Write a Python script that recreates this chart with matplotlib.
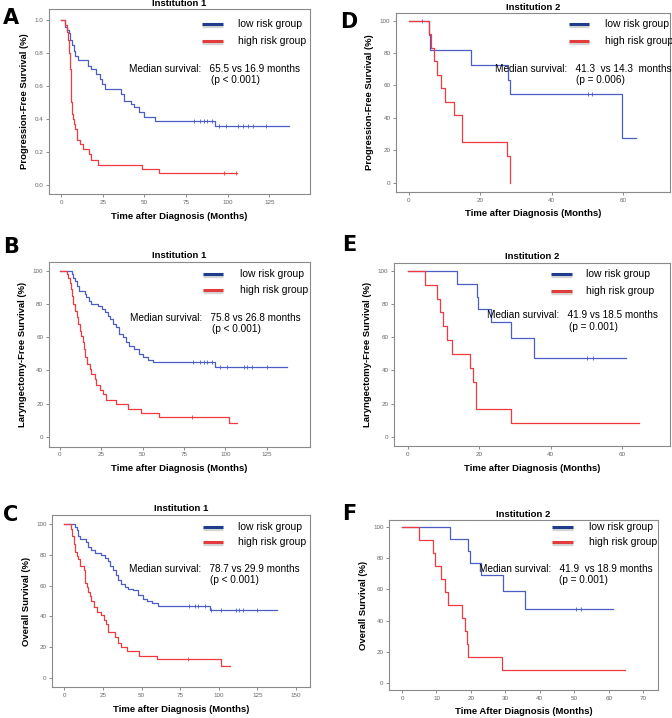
import matplotlib
matplotlib.use("Agg")
import matplotlib.pyplot as plt
import numpy as np

plt.rcParams['font.family'] = ['Liberation Sans', 'DejaVu Sans']

# ---- data (event times in months, survival after step) ----
# A: progression-free survival, institution 1 (0-1 scale)
a_low_t = [2.5, 3.5, 4.5, 5.5, 6.5, 7.5, 8.5, 10, 16, 18, 21, 23, 24.5, 26, 36,
           37.5, 42, 44, 46.5, 49.5, 56.5, 92.5]
a_low_s = [0.96, 0.94, 0.92, 0.88, 0.85, 0.81, 0.78, 0.76, 0.72, 0.70, 0.67,
           0.64, 0.61, 0.58, 0.55, 0.51, 0.49, 0.47, 0.44, 0.41, 0.39, 0.36]
a_low_end = 137
a_low_cens = [79.5, 83.5, 86, 87.5, 90.5, 94.5, 99, 106, 109, 112, 115, 123]
a_high_t = [2.5, 3.5, 4.2, 4.8, 5.2, 5.6, 6.0, 6.5, 7.0, 7.6, 8.2, 9.2, 11.2,
            13.2, 16.8, 17.6, 22.2, 48.3, 58.8]
a_high_s = [0.97, 0.93, 0.88, 0.80, 0.70, 0.60, 0.50, 0.43, 0.40, 0.37, 0.34,
            0.27, 0.25, 0.22, 0.19, 0.15, 0.12, 0.10, 0.073]
a_high_end = 105.5
a_high_cens = [98, 105]

# D: progression-free survival, institution 2
d_low_t = [5.6, 6.0, 17.4, 27.7, 28.4, 59.6]
d_low_s = [90.9, 81.8, 72.7, 63.6, 54.5, 27.3]
d_low_end = 63.6
d_low_cens = [3.7, 50, 51.2]
d_high_t = [5.6, 6.4, 7.0, 7.9, 9.0, 10.1, 12.7, 15.0, 27.5, 28.4]
d_high_s = [91.7, 83.3, 75, 66.7, 58.3, 50, 41.7, 25, 16.7, 0]
d_high_end = 28.4
d_high_cens = []

# B: laryngectomy-free survival, institution 1
b_low_t = [7, 8, 9, 10, 11.5, 15, 16, 17.5, 19, 23, 25.5, 27.5, 29, 30.5, 32,
           34, 36, 38, 40, 42, 45, 47.5, 50, 53, 56.5, 94]
b_low_s = [98, 96, 94, 91, 88, 86, 84, 82, 80, 79, 77, 75, 73, 71, 68, 66, 62,
           60, 57, 55, 53, 50, 48, 46.5, 45, 42]
b_low_end = 137
b_low_cens = [80.5, 84.5, 87, 89, 92, 97, 101, 111, 113, 116, 125]
b_high_t = [4, 5, 6, 6.5, 7.3, 8, 9, 10, 11, 12, 13, 14, 14.5, 15.3, 16.5, 18,
            19, 21, 22, 24, 26, 28, 34, 41, 48.8, 60, 102]
b_high_s = [98, 96, 93, 89, 85, 80, 76, 72, 68, 64, 61, 57, 53, 48, 44, 41, 38,
            35, 31, 28, 26, 22, 19.5, 17, 14.5, 12, 8]
b_high_end = 107
b_high_cens = [80]

# E: laryngectomy-free survival, institution 2
e_low_t = [13.9, 19.3, 19.8, 23.2, 29.0, 35.4]
e_low_s = [92.3, 84.6, 76.9, 69.2, 59.3, 47.4]
e_low_end = 61
e_low_cens = [50.3, 52]
e_high_t = [5, 8.3, 9, 10, 11.1, 12.5, 17.6, 18.4, 19, 29]
e_high_s = [91.7, 83.3, 75, 66.7, 58.3, 50, 41.7, 33.3, 16.7, 8.3]
e_high_end = 64.7
e_high_cens = []

# C: overall survival, institution 1
c_low_t = [7, 8, 9, 10, 14, 15.5, 17.5, 20, 24, 26, 28, 29.5, 31.5, 33.5, 35,
           37, 39, 41.5, 44.5, 48, 51, 53.5, 56.5, 60.5, 94]
c_low_s = [98, 96, 92, 90, 88, 85, 83, 81, 80, 78, 76, 73, 70, 67, 63.5, 61,
           59, 58, 57, 54, 51, 50, 49, 47, 44]
c_low_end = 137.5
c_low_cens = [81, 84.5, 86.5, 91, 95, 101.5, 111, 113, 115.5, 124.5]
c_high_t = [4, 5, 6, 7, 8, 9, 10, 12.5, 13.5, 14.5, 15.5, 16.5, 17.5, 19, 21,
            24, 25.5, 27, 28.5, 33, 34.5, 37, 40.5, 48.5, 60, 101.5]
c_high_s = [97, 92, 87, 82, 79, 77, 73, 70, 62, 59, 56, 53, 50, 46, 43, 41, 38,
            35, 30, 27, 23, 20.5, 17.5, 14.5, 12.3, 8]
c_high_end = 107
c_high_cens = [80]

# F: overall survival, institution 2
f_low_t = [13.8, 19.1, 19.6, 23, 29.3, 35.6]
f_low_s = [92.3, 84.6, 76.9, 69.2, 59.3, 47.4]
f_low_end = 61.3
f_low_cens = [50.6, 52]
f_high_t = [4.8, 9, 9.7, 11.2, 12.4, 13.2, 17.4, 18.2, 18.9, 19.1, 29.1]
f_high_s = [91.7, 83.3, 75, 66.7, 58.3, 50, 41.7, 33.3, 25, 16.7, 8.3]
f_high_end = 64.6
f_high_cens = []

BLUE = "#4a5ec6"
RED = "#f2393f"
LEG_BLUE = "#1f3d8c"
LEG_RED = "#e23c3c"


def km(ax, times, surv, end, cens, color, top):
    x = np.concatenate([[0], times, [end]])
    y = np.concatenate([[top], surv, [surv[-1]]])
    ax.step(x, y, where="post", color=color, lw=0.9)
    if len(cens):
        idx = np.searchsorted(x, cens, side="right") - 1
        ax.plot(cens, y[idx], ls="none", marker="|", ms=2.5, mew=0.6,
                color=color)


def panel(ax, title, ylabel, xlabel, xlim, ylim, xticks, yticks,
          median, pval, leg, med_pos, p_pos, fmt="%d"):
    ax.set_xlim(xlim)
    ax.set_ylim(ylim)
    ax.set_xticks(xticks)
    ax.set_yticks(yticks)
    ax.yaxis.set_major_formatter(lambda v, pos: fmt % v)
    ax.tick_params(direction="out", length=2.5, width=0.6, color="#777777",
                   labelsize=4.5, labelcolor="#666666", pad=1.5)
    for sp in ax.spines.values():
        sp.set_color("#8a8a8a")
        sp.set_linewidth(0.8)
    ax.set_title(title, fontsize=6.8, fontweight="bold", pad=2.5)
    ax.set_ylabel(ylabel, fontsize=6.8, fontweight="bold", labelpad=4)
    ax.set_xlabel(xlabel, fontsize=6.8, fontweight="bold", labelpad=5)

    x0, x1, tx, yb, yr = leg
    for yy, c in [(yb, LEG_BLUE), (yr, LEG_RED)]:
        ax.plot([x0, x1], [yy - 0.012, yy - 0.012], transform=ax.transAxes,
                color="#bbbbbb", lw=2.4, alpha=0.6, clip_on=False,
                solid_capstyle="butt")
        ax.plot([x0, x1], [yy, yy], transform=ax.transAxes, color=c, lw=2.2,
                clip_on=False, solid_capstyle="butt")
    ax.text(tx, yb, "low risk group", transform=ax.transAxes, fontsize=7.5,
            va="center")
    ax.text(tx, yr, "high risk group", transform=ax.transAxes, fontsize=7.5,
            va="center")
    ax.text(med_pos[0], med_pos[1], median, transform=ax.transAxes,
            fontsize=7.2, va="center")
    ax.text(p_pos[0], p_pos[1], pval, transform=ax.transAxes, fontsize=7.2,
            va="center")


fig = plt.figure(figsize=(6.72, 7.18), dpi=100)

axA = fig.add_axes([0.0729, 0.7298, 0.3884, 0.2577])
axD = fig.add_axes([0.5893, 0.7326, 0.4077, 0.2493])
axB = fig.add_axes([0.0725, 0.3779, 0.3888, 0.2577])
axE = fig.add_axes([0.5863, 0.3788, 0.4107, 0.2553])
axC = fig.add_axes([0.0778, 0.0428, 0.3835, 0.2400])
axF = fig.add_axes([0.5793, 0.0390, 0.3994, 0.2368])

xl1 = "Time after Diagnosis (Months)"

km(axA, a_low_t, a_low_s, a_low_end, a_low_cens, BLUE, 1.0)
km(axA, a_high_t, a_high_s, a_high_end, a_high_cens, RED, 1.0)
panel(axA, "Institution 1", "Progression-Free Survival (%)", xl1,
      (-7.4, 149.5), (-0.0545, 1.0667), np.arange(0, 126, 25),
      np.arange(0, 1.01, 0.2), "Median survival:   65.5 vs 16.9 months",
      "(p < 0.001)", (0.586, 0.667, 0.724, 0.919, 0.827), (0.306, 0.676),
      (0.62, 0.616), fmt="%.1f")

km(axD, d_low_t, d_low_s, d_low_end, d_low_cens, BLUE, 100)
km(axD, d_high_t, d_high_s, d_high_end, d_high_cens, RED, 100)
panel(axD, "Institution 2", "Progression-Free Survival (%)", xl1,
      (-3.5, 73), (-5.7, 104.7), np.arange(0, 61, 20), np.arange(0, 101, 20),
      "Median survival:   41.3  vs 14.3  months", "(p = 0.006)",
      (0.631, 0.704, 0.763, 0.939, 0.844), (0.361, 0.687), (0.657, 0.626))

km(axB, b_low_t, b_low_s, b_low_end, b_low_cens, BLUE, 100)
km(axB, b_high_t, b_high_s, b_high_end, b_high_cens, RED, 100)
panel(axB, "Institution 1", "Laryngectomy-Free Survival (%)", xl1,
      (-6.8, 151.2), (-6, 105.6), np.arange(0, 126, 25), np.arange(0, 101, 20),
      "Median survival:   75.8 vs 26.8 months", "(p < 0.001)",
      (0.59, 0.667, 0.732, 0.934, 0.847), (0.311, 0.697), (0.625, 0.636))

km(axE, e_low_t, e_low_s, e_low_end, e_low_cens, BLUE, 100)
km(axE, e_high_t, e_high_s, e_high_end, e_high_cens, RED, 100)
panel(axE, "Institution 2", "Laryngectomy-Free Survival (%)", xl1,
      (-3.8, 73.4), (-5.6, 105), np.arange(0, 61, 20), np.arange(0, 101, 20),
      "Median survival:   41.9 vs 18.5 months", "(p = 0.001)",
      (0.569, 0.645, 0.694, 0.937, 0.847), (0.338, 0.715), (0.633, 0.651))

km(axC, c_low_t, c_low_s, c_low_end, c_low_cens, BLUE, 100)
km(axC, c_high_t, c_high_s, c_high_end, c_high_cens, RED, 100)
panel(axC, "Institution 1", "Overall Survival (%)", xl1,
      (-7.8, 159), (-5.9, 105.8), np.arange(0, 151, 25), np.arange(0, 101, 20),
      "Median survival:   78.7 vs 29.9 months", "(p < 0.001)",
      (0.585, 0.662, 0.721, 0.932, 0.845), (0.299, 0.685), (0.612, 0.62))

km(axF, f_low_t, f_low_s, f_low_end, f_low_cens, BLUE, 100)
km(axF, f_high_t, f_high_s, f_high_end, f_high_cens, RED, 100)
panel(axF, "Institution 2", "Overall Survival (%)",
      "Time After Diagnosis (Months)", (-3.7, 74.2), (-4.7, 104.7),
      np.arange(0, 71, 10), np.arange(0, 101, 20),
      "Median survival:   41.9  vs 18.9 months", "(p = 0.001)",
      (0.606, 0.683, 0.744, 0.961, 0.873), (0.333, 0.71), (0.634, 0.645))

# panel letters (figure pixel positions from the reference)
letters = ["A", "B", "C", "D", "E", "F"]
letter_xy = [(11, 18), (11, 247), (11, 515), (349, 22), (349, 245), (349, 514)]
for lab, (px, py) in zip(letters, letter_xy):
    fig.text(px / 672, 1 - py / 718, lab, fontsize=15, fontweight="bold",
             family="DejaVu Sans", ha="center", va="center")

fig.savefig("out.png", dpi=100)
